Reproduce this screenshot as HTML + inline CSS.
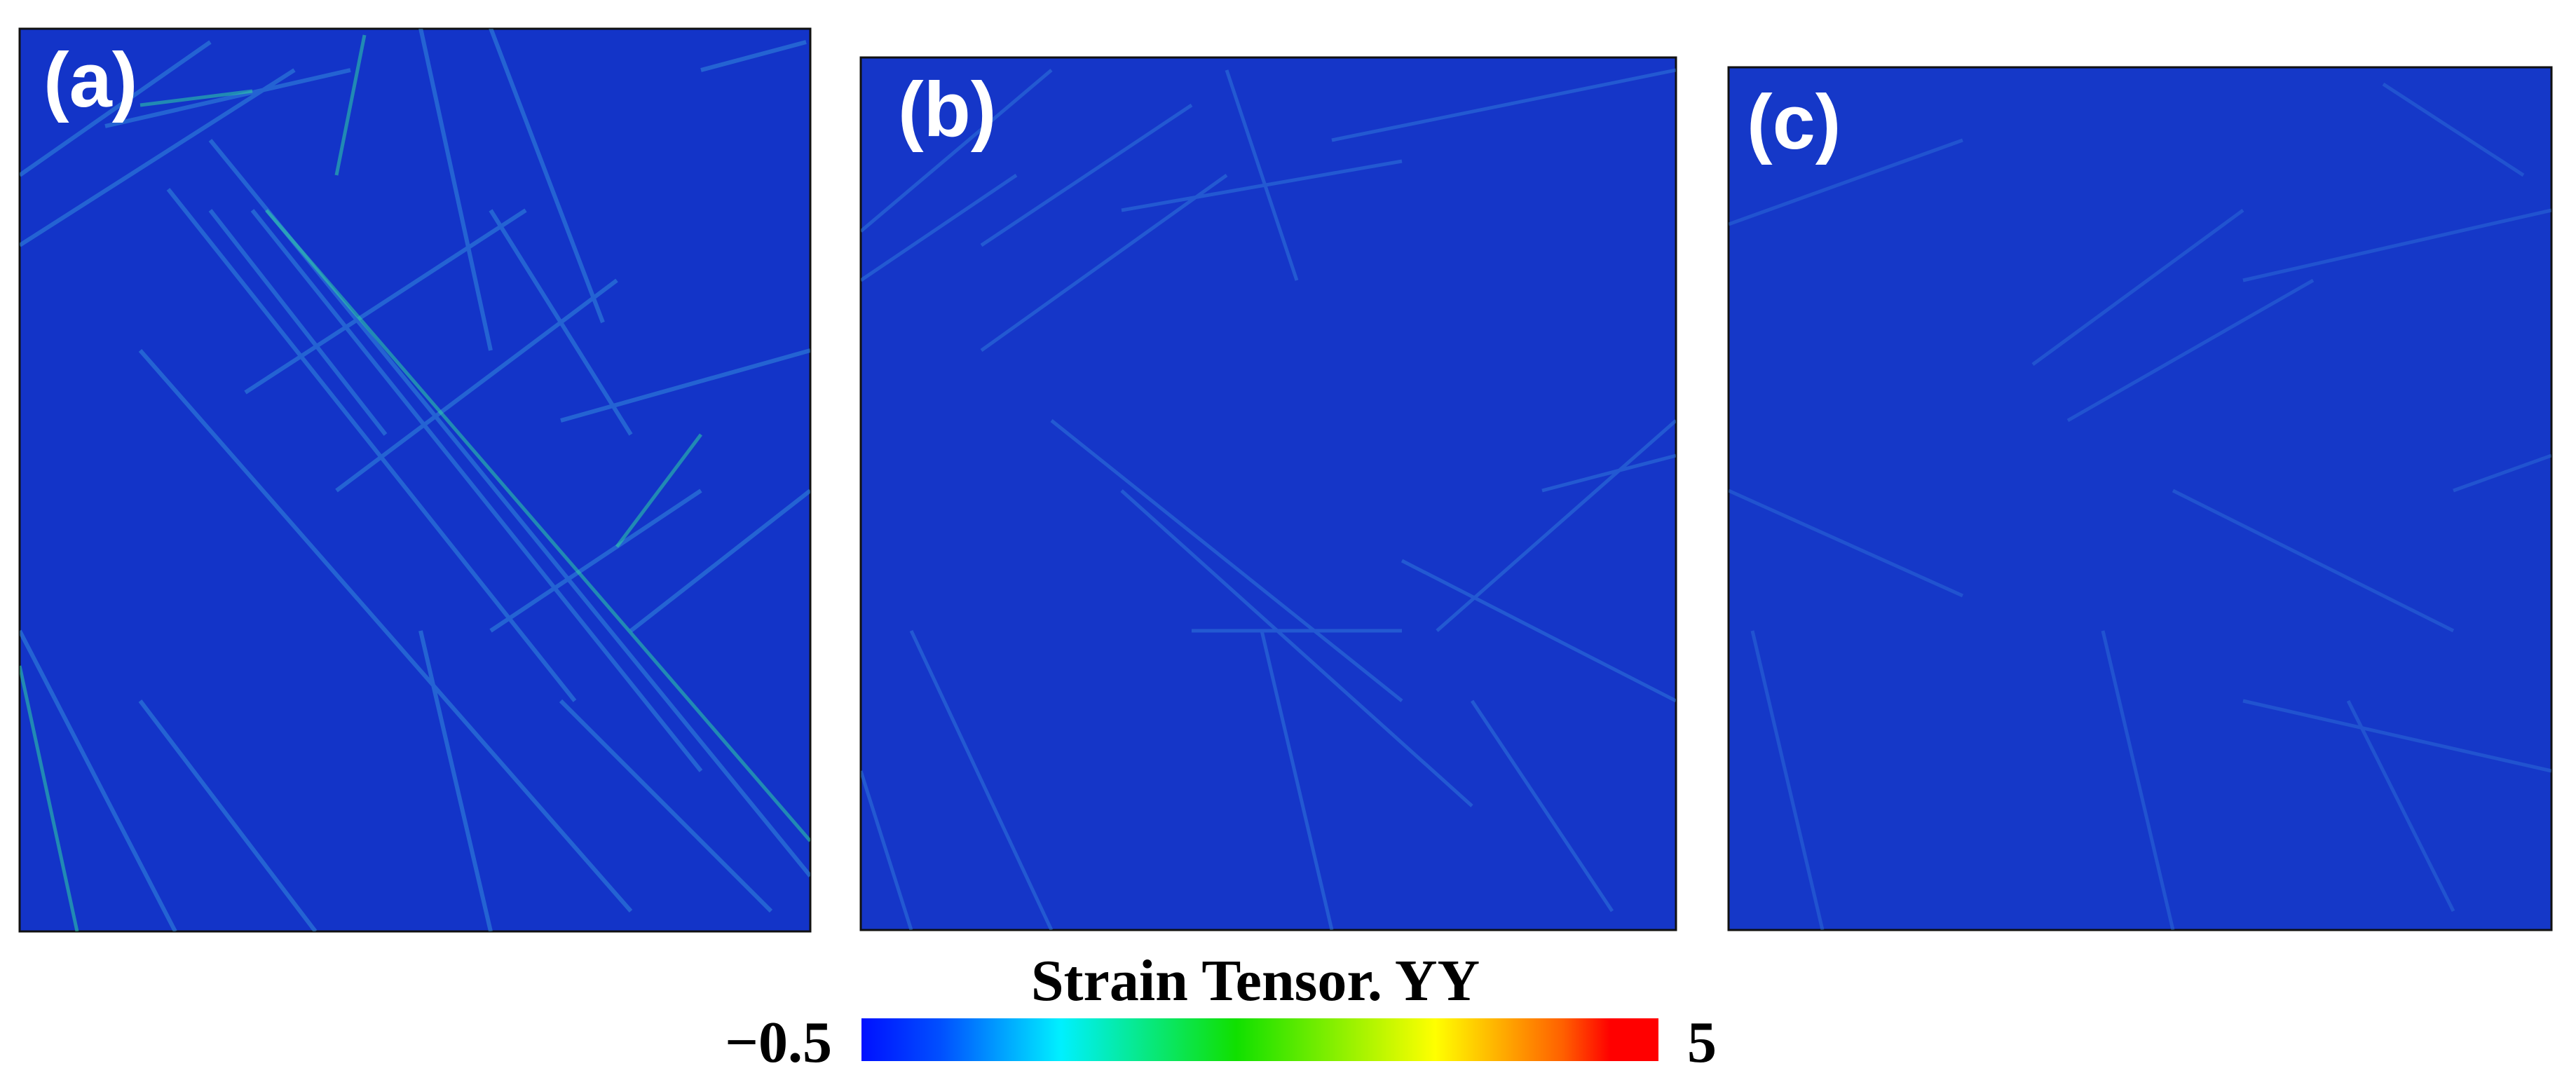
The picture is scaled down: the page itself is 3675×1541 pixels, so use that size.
<!DOCTYPE html>
<html><head><meta charset="utf-8">
<style>
html,body{margin:0;padding:0;background:#fff;}
body{width:3675px;height:1541px;position:relative;overflow:hidden;font-family:"Liberation Serif",serif;}
svg{position:absolute;left:0;top:0;}
</style></head>
<body>
<svg width="3675" height="1541" viewBox="0 0 3675 1541">
<defs>
<linearGradient id="cmap" x1="0" x2="1" y1="0" y2="0">
<stop offset="0" stop-color="#0010ff"/>
<stop offset="0.1" stop-color="#0050ff"/>
<stop offset="0.25" stop-color="#00f0ff"/>
<stop offset="0.47" stop-color="#10e000"/>
<stop offset="0.72" stop-color="#ffff00"/>
<stop offset="0.88" stop-color="#ff6000"/>
<stop offset="0.94" stop-color="#ff0000"/>
<stop offset="1" stop-color="#ff0000"/>
</linearGradient>
<clipPath id="ca"><rect x="28" y="41" width="1128" height="1288"/></clipPath>
<clipPath id="cb"><rect x="1228" y="82" width="1163" height="1245"/></clipPath>
<clipPath id="cc"><rect x="2466" y="96" width="1174" height="1231"/></clipPath>
</defs>

<g>
<rect x="28" y="41" width="1128" height="1288" fill="#1334c8" stroke="#111" stroke-width="3"/>
<g clip-path="url(#ca)" stroke="#3a9ee0" fill="none" stroke-width="6" opacity="0.45">
<path d="M28 250 L300 60 M28 350 L420 100 M240 270 L820 1000 M300 200 L1156 1250 M360 300 L1000 1100 M200 500 L900 1300 M600 40 L700 500 M700 40 L860 460 M350 560 L750 300 M480 700 L880 400 M700 900 L1000 700 M28 900 L250 1329 M200 1000 L450 1329 M800 1000 L1100 1300 M900 900 L1156 700 M600 900 L700 1329 M150 180 L500 100 M300 300 L550 620 M700 300 L900 620 M1000 100 L1150 60 M800 600 L1156 500"/>
</g>
<g clip-path="url(#ca)" stroke="#30e0a0" fill="none" stroke-width="5" opacity="0.5">
<path d="M380 300 L1156 1200 M28 950 L110 1329 M880 780 L1000 620 M520 50 L480 250 M200 150 L360 130"/>
</g>
</g>

<g>
<rect x="1228" y="82" width="1163" height="1245" fill="#1536c8" stroke="#111" stroke-width="3"/>
<g clip-path="url(#cb)" stroke="#3a8ee0" fill="none" stroke-width="5" opacity="0.4">
<path d="M1228 330 L1500 100 M1228 400 L1450 250 M1400 350 L1700 150 M1400 500 L1750 250 M1600 300 L2000 230 M1750 100 L1850 400 M1900 200 L2391 100 M1500 600 L2000 1000 M1600 700 L2100 1150 M2000 800 L2391 1000 M1800 900 L1900 1327 M2050 900 L2391 600 M1300 900 L1500 1327 M1228 1100 L1300 1327 M2200 700 L2391 650 M1700 900 L2000 900 M2100 1000 L2300 1300"/>
</g>
</g>

<g>
<rect x="2466" y="96" width="1174" height="1231" fill="#1538c8" stroke="#111" stroke-width="3"/>
<g clip-path="url(#cc)" stroke="#3a86e0" fill="none" stroke-width="5" opacity="0.35">
<path d="M2466 320 L2800 200 M2900 520 L3200 300 M2950 600 L3300 400 M3200 400 L3640 300 M2466 700 L2800 850 M3100 700 L3500 900 M3400 120 L3600 250 M3000 900 L3100 1327 M3350 1000 L3500 1300 M3500 700 L3640 650 M2500 900 L2600 1327 M3200 1000 L3640 1100"/>
</g>
</g>

<text x="62" y="152" font-family="Liberation Sans, sans-serif" font-weight="bold" font-size="110" fill="#fff">(a)</text>
<text x="1281" y="194" font-family="Liberation Sans, sans-serif" font-weight="bold" font-size="110" fill="#fff">(b)</text>
<text x="2492" y="212" font-family="Liberation Sans, sans-serif" font-weight="bold" font-size="110" fill="#fff">(c)</text>

<text x="1791" y="1427" text-anchor="middle" font-weight="bold" font-size="84" fill="#000">Strain Tensor. YY</text>
<rect x="1229" y="1453" width="1137" height="61" fill="url(#cmap)"/>
<text x="1187" y="1515" text-anchor="end" font-weight="bold" font-size="84" fill="#000">−0.5</text>
<text x="2407" y="1515" font-weight="bold" font-size="84" fill="#000">5</text>
</svg>
</body></html>
